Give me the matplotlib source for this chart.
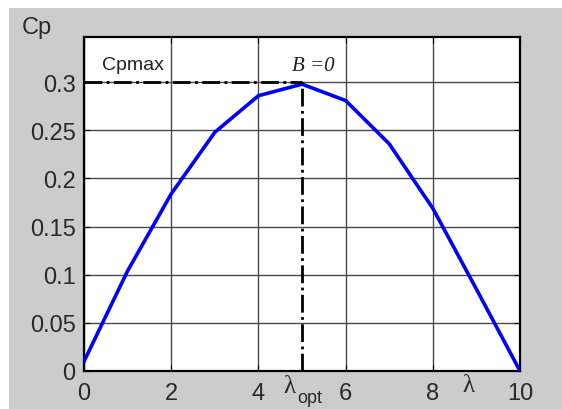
import matplotlib.pyplot as plt
from matplotlib.patches import Rectangle

# tip speed ratio vs power coefficient
lam = [0, 1, 2, 3, 4, 5, 6, 7, 8, 9, 10]
cp = [0.010, 0.104, 0.184, 0.248, 0.286, 0.298, 0.281, 0.236, 0.169, 0.085, 0.0]
lam_opt = 5
cp_max = 0.3

xticks = [0, 2, 4, 6, 8, 10]
yticks = [0, 0.05, 0.1, 0.15, 0.2, 0.25, 0.3]

fig = plt.figure(figsize=(5.62, 4.10), dpi=100, facecolor='white')
# gray panel behind the axes (white strip on top/left)
fig.patches.append(Rectangle((9/562, 0), 1, 1 - 9/410, transform=fig.transFigure,
                             facecolor='#cccccc', edgecolor='none', zorder=-5))

ax = fig.add_axes([84/562, 1 - 372/410, 436/562, 334/410])
ax.set_facecolor('white')

ax.plot(lam, cp, color='#0000ff', lw=2.6, zorder=3)
ax.plot([0, lam_opt], [cp_max, cp_max], color='black', lw=2, ls='-.', zorder=4)
ax.plot([lam_opt, lam_opt], [0, cp_max], color='black', lw=2, ls='-.', zorder=4)

ax.set_xlim(0, 10)
ax.set_ylim(0, 0.347)
ax.set_xticks(xticks)
ax.set_yticks(yticks)
ax.set_xticklabels([str(t) for t in xticks])
ax.set_yticklabels(['0', '0.05', '0.1', '0.15', '0.2', '0.25', '0.3'])
ax.grid(True, color='#4a4a4a', lw=1.0)
ax.tick_params(direction='in', length=4, labelsize=17, top=True, right=True)
ax.tick_params(axis='x', pad=8)
ax.tick_params(axis='y', pad=6)
for lab in ax.get_xticklabels() + ax.get_yticklabels():
    lab.set_family('Liberation Sans')
    lab.set_color('#2a2a2a')
for s in ax.spines.values():
    s.set_linewidth(1.6)

fig.text(22/562, 1 - 28/410, 'Cp', fontsize=17, family='Liberation Sans',
         color='#2a2a2a', va='center', ha='left')
ax.text(0.42, 0.318, 'Cpmax', fontsize=14, family='Liberation Sans',
        color='#222222', va='center', ha='left')
ax.text(4.78, 0.317, 'B =0', fontsize=15, family='Liberation Serif',
        style='italic', color='#222222', va='center', ha='left')
fig.text(289/562, 1 - 387/410, 'λ', fontsize=18, family='Liberation Serif',
         color='#2a2a2a', va='center', ha='center')
fig.text(297/562, 1 - 399/410, 'opt', fontsize=13, family='Liberation Sans',
         color='#2a2a2a', va='center', ha='left')
fig.text(468/562, 1 - 386/410, 'λ', fontsize=18, family='Liberation Serif',
         color='#2a2a2a', va='center', ha='center')

fig.savefig('out.png', dpi=100, facecolor=fig.get_facecolor())
